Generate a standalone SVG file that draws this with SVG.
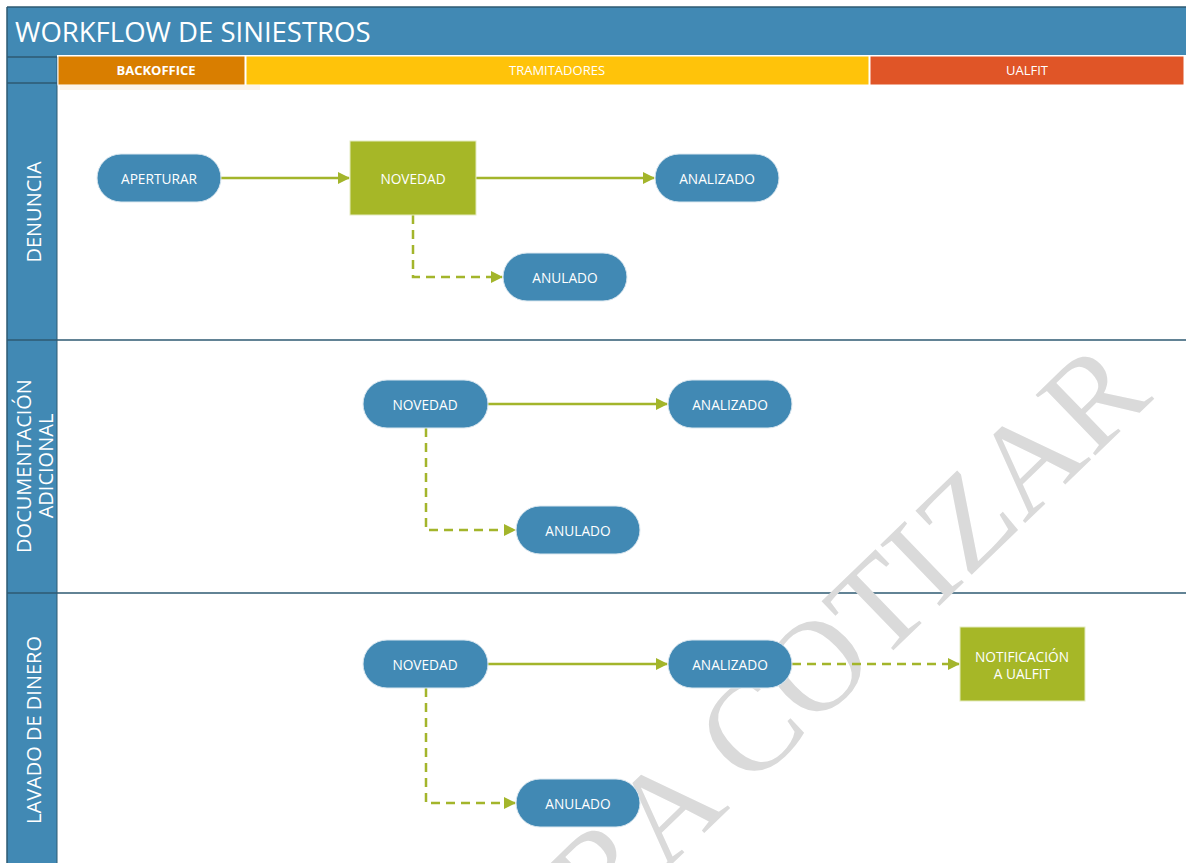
<svg xmlns="http://www.w3.org/2000/svg" width="1186" height="863" viewBox="0 0 1186 863">
  <style>
    .txt { font-family: "Open Sans", "Noto Sans", "Liberation Sans", sans-serif; fill: #ffffff; }
    .node-text { font-size: 13.7px; text-anchor: middle; dominant-baseline: central; }
    .pill { fill: #4189B4; stroke: #DCE8F0; stroke-width: 1; }
    .box { fill: #A6B727; stroke: #E4EBC0; stroke-width: 1; }
    .lane-label { font-size: 20px; text-anchor: middle; dominant-baseline: central; }
    .hdr { font-size: 13px; text-anchor: middle; dominant-baseline: central; }
    .sep { stroke: #2E5A72; stroke-width: 1.5; }
    .conn { fill: none; stroke: #A3B52B; stroke-width: 2.5; }
    .dash { stroke-dasharray: 9 6; }
  </style>
  <defs>
    <marker id="arrow" viewBox="0 0 12 12" refX="11" refY="6" markerWidth="12" markerHeight="12" markerUnits="userSpaceOnUse" orient="auto">
      <path d="M0,0 L12,6 L0,12 Z" fill="#A3B52B"/>
    </marker>
  </defs>
  <rect x="0" y="0" width="1186" height="863" fill="#ffffff"/>

  <!-- frame / title -->
  <g id="title">
    <rect x="7" y="7" width="1179" height="48" fill="#4189B4"/>
    <line x1="7" y1="7" x2="1186" y2="7" class="sep"/>
    <text x="15" y="31" class="txt" font-size="27.5" dominant-baseline="central">WORKFLOW DE SINIESTROS</text>
  </g>

  <!-- left column -->
  <g id="left-column">
    <rect x="7" y="55" width="50" height="808" fill="#4189B4"/>
    <line x1="7" y1="7" x2="7" y2="863" class="sep"/>
    <line x1="57" y1="57" x2="57" y2="863" stroke="#2E5A72" stroke-width="1"/>
    <line x1="7" y1="57" x2="57" y2="57" class="sep"/>
    <line x1="7" y1="83" x2="57" y2="83" class="sep"/>
  </g>

  <!-- header columns -->
  <g id="header-backoffice">
    <rect x="58" y="56" width="187" height="29" fill="#D97E00" stroke="#ffffff" stroke-width="1"/>
    <text x="156" y="70" class="txt hdr" font-weight="bold">BACKOFFICE</text>
  </g>
  <g id="header-tramitadores">
    <rect x="246" y="56" width="623" height="29" fill="#FFC30A" stroke="#ffffff" stroke-width="1"/>
    <text x="557" y="70" class="txt hdr">TRAMITADORES</text>
  </g>
  <g id="header-ualfit">
    <rect x="870" y="56" width="314" height="29" fill="#E05527" stroke="#ffffff" stroke-width="1"/>
    <text x="1027" y="70" class="txt hdr">UALFIT</text>
  </g>
  <rect x="60" y="85" width="200" height="5" fill="#FBEFE3" opacity="0.7"/>

  <!-- lanes -->
  <g id="lane-denuncia">
    <line x1="7" y1="340" x2="1186" y2="340" class="sep"/>
    <text class="txt lane-label" transform="translate(33,212) rotate(-90)">DENUNCIA</text>
  </g>
  <g id="lane-documentacion">
    <line x1="7" y1="593" x2="1186" y2="593" class="sep"/>
    <text class="txt lane-label" transform="translate(34,466) rotate(-90)"><tspan x="0" dy="-11">DOCUMENTACIÓN</tspan><tspan x="0" dy="22">ADICIONAL</tspan></text>
  </g>
  <g id="lane-lavado">
    <text class="txt lane-label" transform="translate(33,730) rotate(-90)">LAVADO DE DINERO</text>
  </g>

  <!-- watermark -->
  <text transform="translate(490,1040) rotate(-44)" font-family="'Liberation Serif', serif" font-size="130" fill="#DADADA">PARA COTIZAR</text>

  <!-- connectors -->
  <g id="connectors">
    <path class="conn" d="M221,178 L349,178" marker-end="url(#arrow)"/>
    <path class="conn" d="M476,178 L654,178" marker-end="url(#arrow)"/>
    <path class="conn dash" d="M413,215 L413,277 L502,277" marker-end="url(#arrow)"/>

    <path class="conn" d="M488,404 L667,404" marker-end="url(#arrow)"/>
    <path class="conn dash" d="M426,428 L426,530 L515,530" marker-end="url(#arrow)"/>

    <path class="conn" d="M488,664 L667,664" marker-end="url(#arrow)"/>
    <path class="conn dash" d="M426,688 L426,803 L515,803" marker-end="url(#arrow)"/>
    <path class="conn dash" d="M792,664 L959,664" marker-end="url(#arrow)"/>
  </g>

  <!-- nodes lane 1 -->
  <g id="n-apertura">
    <rect class="pill" x="97" y="154" width="124" height="48" rx="24"/>
    <text class="txt node-text" x="159" y="178">APERTURAR</text>
  </g>
  <g id="n-novedad-1">
    <rect class="box" x="350" y="141" width="126" height="74"/>
    <text class="txt node-text" x="413" y="178">NOVEDAD</text>
  </g>
  <g id="n-analizado-1">
    <rect class="pill" x="655" y="154" width="124" height="48" rx="24"/>
    <text class="txt node-text" x="717" y="178">ANALIZADO</text>
  </g>
  <g id="n-anulado-1">
    <rect class="pill" x="503" y="253" width="124" height="48" rx="24"/>
    <text class="txt node-text" x="565" y="277">ANULADO</text>
  </g>

  <!-- nodes lane 2 -->
  <g id="n-novedad-2">
    <rect class="pill" x="363" y="380" width="125" height="48" rx="24"/>
    <text class="txt node-text" x="425" y="404">NOVEDAD</text>
  </g>
  <g id="n-analizado-2">
    <rect class="pill" x="668" y="380" width="124" height="48" rx="24"/>
    <text class="txt node-text" x="730" y="404">ANALIZADO</text>
  </g>
  <g id="n-anulado-2">
    <rect class="pill" x="516" y="506" width="124" height="48" rx="24"/>
    <text class="txt node-text" x="578" y="530">ANULADO</text>
  </g>

  <!-- nodes lane 3 -->
  <g id="n-novedad-3">
    <rect class="pill" x="363" y="640" width="125" height="48" rx="24"/>
    <text class="txt node-text" x="425" y="664">NOVEDAD</text>
  </g>
  <g id="n-analizado-3">
    <rect class="pill" x="668" y="640" width="124" height="48" rx="24"/>
    <text class="txt node-text" x="730" y="664">ANALIZADO</text>
  </g>
  <g id="n-notificacion">
    <rect class="box" x="960" y="627" width="125" height="74"/>
    <text class="txt node-text" x="1022" y="664"><tspan x="1022" dy="-8">NOTIFICACIÓN</tspan><tspan x="1022" dy="17">A UALFIT</tspan></text>
  </g>
  <g id="n-anulado-3">
    <rect class="pill" x="516" y="779" width="124" height="48" rx="24"/>
    <text class="txt node-text" x="578" y="803">ANULADO</text>
  </g>
</svg>
